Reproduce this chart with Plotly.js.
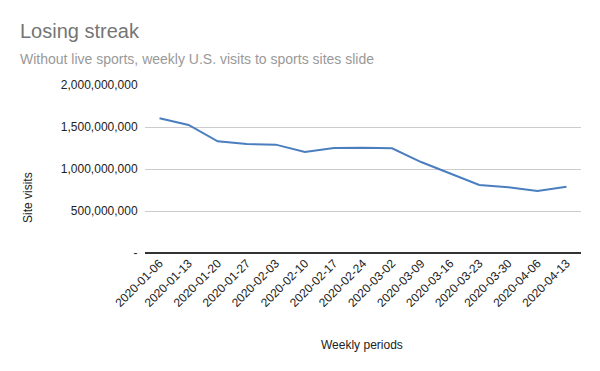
<!DOCTYPE html>
<html>
<head>
<meta charset="utf-8">
<script src="https://cdn.plot.ly/plotly-3.0.1.min.js"></script>
<style>html,body{margin:0;padding:0;background:#fff;}#chart{width:600px;height:371px;}</style>
</head>
<body>
<div id="chart"></div>
<script>
const weeks = ["2020-01-06","2020-01-13","2020-01-20","2020-01-27","2020-02-03","2020-02-10","2020-02-17","2020-02-24","2020-03-02","2020-03-09","2020-03-16","2020-03-23","2020-03-30","2020-04-06","2020-04-13"];
const siteVisits = [1604000000,1524000000,1330000000,1298000000,1290000000,1202000000,1250000000,1254000000,1246000000,1083000000,946000000,810000000,782000000,738000000,789000000];
const yTickVals = [0,500000000,1000000000,1500000000,2000000000];
const yTickText = ["-","500,000,000","1,000,000,000","1,500,000,000","2,000,000,000"];

const font = "Arial, 'Liberation Sans', sans-serif";
Plotly.newPlot("chart", [{
  type: "scatter", mode: "lines",
  x: weeks, y: siteVisits,
  line: {color: "#4a7ebf", width: 2}
}], {
  width: 600, height: 371,
  margin: {l: 145, r: 19, t: 85, b: 118},
  paper_bgcolor: "#fff", plot_bgcolor: "#fff",
  font: {family: font, size: 12, color: "#222"},
  showlegend: false,
  xaxis: {
    type: "category", tickangle: -45, showgrid: false, zeroline: false,
    showline: false, ticks: "", tickfont: {size: 12, color: "#222"},
    range: [-0.5, weeks.length - 0.5]
  },
  yaxis: {
    range: [0, 2000000000], tickvals: yTickVals, ticktext: yTickText,
    showgrid: true, gridcolor: "#cccccc", gridwidth: 1,
    zeroline: true, zerolinecolor: "#333", zerolinewidth: 1.5,
    showline: false, ticks: "outside", ticklen: 4, tickcolor: "rgba(0,0,0,0)",
    tickfont: {size: 12, color: "#222"},
    fixedrange: true
  },
  annotations: [
    {text: "Losing streak", xref: "paper", yref: "paper", x: -145/436, y: 1 + 41/168, xanchor: "left", yanchor: "bottom", showarrow: false, font: {size: 20, color: "#757575", family: font}, xshift: 18},
    {text: "Without live sports, weekly U.S. visits to sports sites slide", xref: "paper", yref: "paper", x: -145/436, y: 1 + 16/168, xanchor: "left", yanchor: "bottom", showarrow: false, font: {size: 14, color: "#999999", family: font}, xshift: 18},
    {text: "Site visits", xref: "paper", yref: "paper", x: -145/436, y: (253-198)/168, xanchor: "center", yanchor: "middle", textangle: -90, showarrow: false, font: {size: 12, color: "#222", family: font}, xshift: 28},
    {text: "Weekly periods", xref: "paper", yref: "paper", x: (362-145)/436, y: -(345-253)/168, xanchor: "center", yanchor: "middle", showarrow: false, font: {size: 12, color: "#222", family: font}}
  ]
}, {displayModeBar: false, staticPlot: true});
</script>
</body>
</html>
